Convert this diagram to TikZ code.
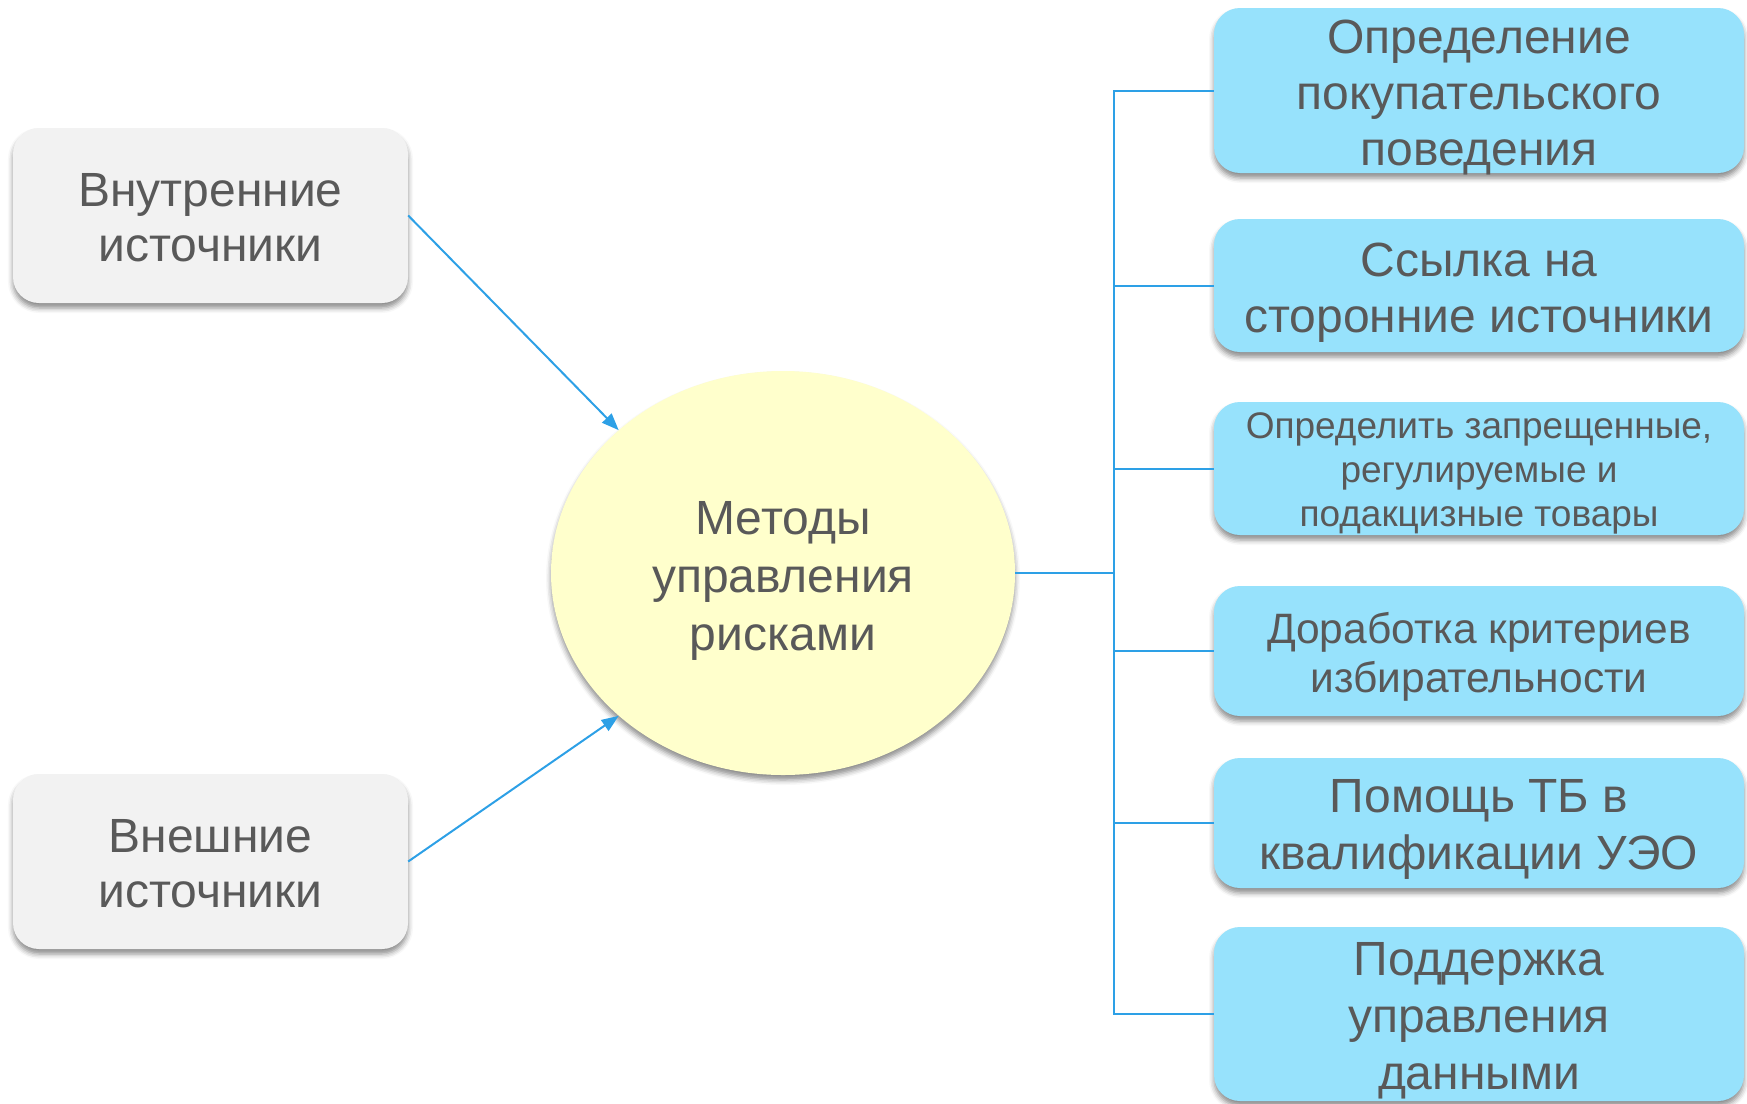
\documentclass[tikz,border=0pt]{standalone}
\usepackage{fontspec}
\setmainfont{Liberation Sans}
\usetikzlibrary{shapes.geometric,arrows.meta,shadows,shadows.blur}
\definecolor{txt}{HTML}{595959}
\definecolor{conncol}{HTML}{2DA0E6}
\definecolor{bluefill}{HTML}{97E2FC}
\definecolor{grayfill}{HTML}{F2F2F2}
\definecolor{yellowfill}{HTML}{FFFFCC}
\tikzset{
  sh/.style={blur shadow={shadow xshift=0pt, shadow yshift=-5pt, shadow blur radius=5pt, shadow opacity=45}},
  lbox/.style={rectangle, rounded corners=26pt, fill=grayfill, sh,
     minimum width=395pt, minimum height=175pt, inner sep=0pt},
  rbox/.style={rectangle, rounded corners=26pt, fill=bluefill, sh,
     minimum width=530pt, inner sep=0pt},
  ebox/.style={ellipse, fill=yellowfill, sh,
     minimum width=464pt, minimum height=404pt, inner sep=0pt},
  label text/.style={text=txt, align=center, inner sep=0pt},
  conn/.style={draw=conncol, line width=2pt},
  arr/.style={conn, -{Triangle[length=17pt,width=13pt]}},
}
\begin{document}
\begin{tikzpicture}[x=1pt,y=-1pt]
\useasboundingbox (0,0) rectangle (1747,1103);
\node[lbox] (l1) at (210.5,215.5) {};
\node[lbox] (l2) at (210.5,861.5) {};
\node[ebox] (e) at (783,573) {};
\node[rbox, minimum height=165pt] (r1) at (1479,90.5) {};
\node[rbox, minimum height=133pt] (r2) at (1479,285.5) {};
\node[rbox, minimum height=133pt] (r3) at (1479,468.5) {};
\node[rbox, minimum height=130pt] (r4) at (1479,651) {};
\node[rbox, minimum height=130pt] (r5) at (1479,823) {};
\node[rbox, minimum height=174pt] (r6) at (1479,1014) {};
\node[label text, font=\fontsize{48}{55}\selectfont] (l1t) at ([yshift=-2pt]l1.center) {Внутренние\\источники};
\node[label text, font=\fontsize{48}{55}\selectfont] (l2t) at ([yshift=-2pt]l2.center) {Внешние\\источники};
\node[label text, font=\fontsize{48}{58}\selectfont] (et) at ([yshift=-8pt]e.center) {Методы\\управления\\рисками};
\node[label text, font=\fontsize{48}{56}\selectfont] (r1t) at ([yshift=-7pt]r1.center) {Определение\\покупательского\\поведения};
\node[label text, font=\fontsize{48}{56}\selectfont] (r2t) at ([yshift=-7pt]r2.center) {Ссылка на\\сторонние источники};
\node[label text, font=\fontsize{37}{44}\selectfont] (r3t) at ([yshift=-5pt]r3.center) {Определить запрещенные,\\регулируемые и\\подакцизные товары};
\node[label text, font=\fontsize{42.5}{49}\selectfont] (r4t) at ([yshift=-6pt]r4.center) {Доработка критериев\\избирательности};
\node[label text, font=\fontsize{48}{57}\selectfont] (r5t) at ([yshift=-6pt]r5.center) {Помощь ТБ в\\квалификации УЭО};
\node[label text, font=\fontsize{48}{57}\selectfont] (r6t) at ([yshift=-7pt]r6.center) {Поддержка\\управления\\данными};
\coordinate (bx) at (1114,573);
\draw[arr] (l1.east) -- (e.139);
\draw[arr] (l2.east) -- (e.221);
\draw[conn] (e.east) -- (bx);
\draw[conn] (r1.west) -- (r1.west -| bx) -- (r6.west -| bx) -- (r6.west);
\draw[conn] (r2.west) -- (r2.west -| bx);
\draw[conn] (r3.west) -- (r3.west -| bx);
\draw[conn] (r4.west) -- (r4.west -| bx);
\draw[conn] (r5.west) -- (r5.west -| bx);
\end{tikzpicture}
\end{document}
